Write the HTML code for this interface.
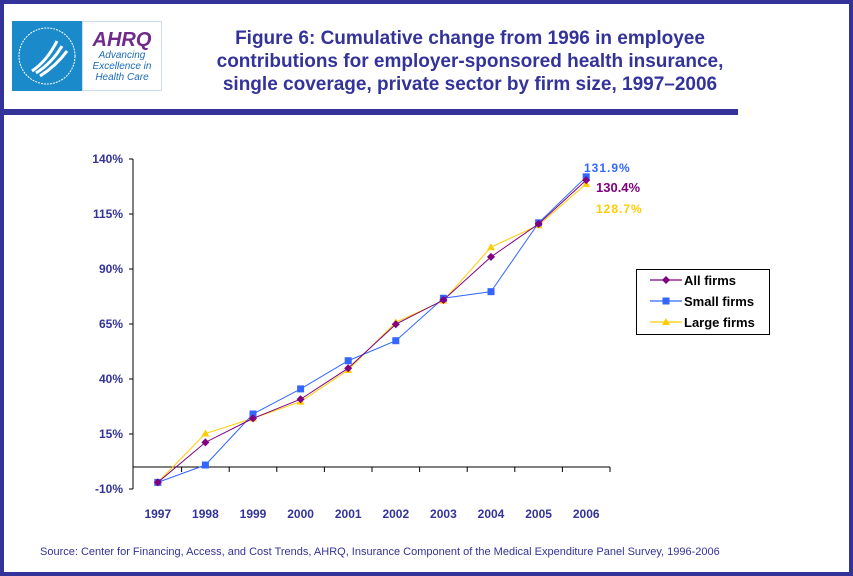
<!DOCTYPE html>
<html><head><meta charset="utf-8"><style>
body{margin:0;width:853px;height:576px;overflow:hidden;background:#fff;font-family:"Liberation Sans",sans-serif}
#frame{position:absolute;left:0;top:0;width:845px;height:568px;border:4px solid #333399;}
.t{position:absolute;left:200px;width:540px;text-align:center;color:#333399;font-weight:bold;font-size:19px;line-height:23px;top:27px}
</style></head><body>
<div id="frame"></div>
<div style="position:absolute;left:0;top:109px;width:738px;height:6px;background:#333399"></div>
<div style="position:absolute;left:12px;top:21px;width:70px;height:70px;background:#1a8acb"><svg width="70" height="70"><circle cx="35" cy="35" r="28" fill="none" stroke="#fff" stroke-width="1" stroke-dasharray="2 1"/><path d="M20 50 Q35 40 45 20 M24 52 Q40 42 50 25 M28 55 Q44 45 55 30" stroke="#fff" stroke-width="3" fill="none"/></svg></div>
<div style="position:absolute;left:82px;top:21px;width:80px;height:70px;background:#fff;border:1px solid #cde;box-sizing:border-box;text-align:center">
<div style="color:#702a8c;font-weight:bold;font-style:italic;font-size:20px;margin-top:8px;line-height:20px">AHRQ</div>
<div style="color:#1a6bb8;font-style:italic;font-size:10px;line-height:11px">Advancing<br>Excellence in<br>Health Care</div></div>
<div class="t">Figure 6: Cumulative change from 1996 in employee<br>contributions for employer-sponsored health insurance,<br>single coverage, private sector by firm size, 1997–2006</div>
<svg id="c" width="853" height="576" style="position:absolute;left:0;top:0"></svg>
<div style="position:absolute;left:636px;top:269px;width:132px;height:64px;border:1px solid #000;background:#fff"></div>
<div style="position:absolute;left:40px;top:546px;font-size:11px;color:#333399">Source: Center for Financing, Access, and Cost Trends, AHRQ, Insurance Component of the Medical Expenditure Panel Survey, 1996-2006</div>
<script>
const years=["1997","1998","1999","2000","2001","2002","2003","2004","2005","2006"];
const allFirms=[-7,11.2,22.1,30.8,44.9,64.9,75.9,95.5,110.5,130.4];
const smallFirms=[-7,0.9,24.1,35.5,48.3,57.4,76.7,79.7,111,131.9];
const largeFirms=[-7,15.2,22.1,29.7,44.1,65.8,75.6,99.9,109.9,128.7];
const yTicks=[-10,15,40,65,90,115,140];
const NS="http://www.w3.org/2000/svg",svg=document.getElementById('c');
const x0=134,x1=610,cw=(x1-x0)/years.length;
const X=i=>x0+cw*(i+0.5), Y=v=>467-2.2*v;
function mk(t,a){const e=document.createElementNS(NS,t);for(const k in a)e.setAttribute(k,a[k]);svg.appendChild(e);return e;}
let e=mk('line',{x1:133,y1:Y(140),x2:133,y2:Y(-10),stroke:'#000'});


e=mk('line',{x1:133,y1:Y(0),x2:x1,y2:Y(0),stroke:'#000'});


yTicks.forEach(v=>{mk('line',{x1:129,y1:Y(v),x2:133,y2:Y(v),stroke:'#000'});
 const t=mk('text',{x:123,y:Y(v)+4,'text-anchor':'end','font-size':12,'font-weight':'bold',fill:'#333399'});t.textContent=v+'%';
 
 });
years.forEach((y,i)=>{mk('line',{x1:x0+cw*(i+1),y1:Y(0),x2:x0+cw*(i+1),y2:Y(0)+5,stroke:'#000'});
 const t=mk('text',{x:X(i),y:518,'text-anchor':'middle','font-size':12,'font-weight':'bold',fill:'#333399'});t.textContent=y;
 
 });
function marker(shape,cx,cy,col){
 if(shape=='d')return mk('polygon',{points:`${cx},${cy-4} ${cx+4},${cy} ${cx},${cy+4} ${cx-4},${cy}`,fill:col});
 if(shape=='s')return mk('rect',{x:cx-3.5,y:cy-3.5,width:7,height:7,fill:col});
 return mk('polygon',{points:`${cx},${cy-4} ${cx+4},${cy+3} ${cx-4},${cy+3}`,fill:col});}
const series=[["large-firms",largeFirms,'#ffcc00','t'],["small-firms",smallFirms,'#3366ff','s'],["all-firms",allFirms,'#800080','d']];
series.forEach(([n,d,c,s])=>{const p=mk('polyline',{points:d.map((v,i)=>X(i)+','+Y(v)).join(' '),fill:'none',stroke:c,'stroke-width':1});
 
 
 d.forEach((v,i)=>{const m=marker(s,X(i),Y(v),c);
  
  });});
const labs=[[584,172,'#3366ff',smallFirms,false],[596,192,'#800080',allFirms,true],[596,213,'#ffcc00',largeFirms,false]];
labs.forEach(([x,y,c,d,b])=>{const t=mk('text',{x:x,y:y,'font-size':b?13:12,'font-weight':'bold',fill:c,'letter-spacing':b?0:1});t.textContent=d[d.length-1].toFixed(1)+'%';
 
 });
setTimeout(()=>{},0);
const leg=[["All firms",'#800080','d'],["Small firms",'#3366ff','s'],["Large firms",'#ffcc00','t']];
leg.forEach(([n,c,s],i)=>{const y=280+i*21;
 setTimeout(()=>{},0);
 const l=mk('line',{x1:650,y1:y,x2:682,y2:y,stroke:c,'stroke-width':1.2});
 
 
 marker(s,666,y,c);
 const t=mk('text',{x:684,y:y+5,'font-size':13,'font-weight':'bold',fill:'#000'});t.textContent=n;
 
 });
svg.parentNode.appendChild(svg);
</script>
</body></html>
